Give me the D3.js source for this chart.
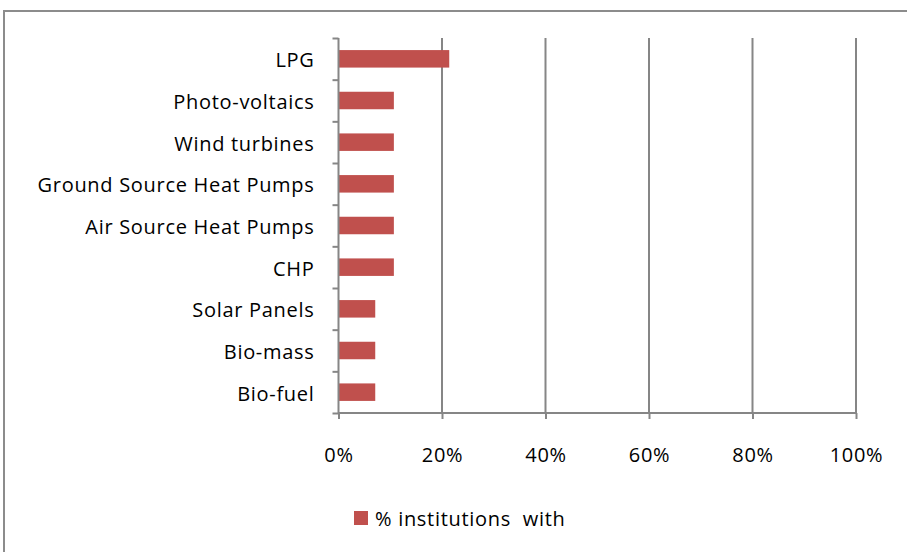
<!DOCTYPE html>
<html>
<head>
<meta charset="utf-8">
<script src="https://cdn.jsdelivr.net/npm/d3@7"></script>
<style>
  body { margin: 0; background: #fff; }
  text { font-family: "Open Sans", "Liberation Sans", sans-serif; fill: #000; letter-spacing: 0.7px; }
</style>
</head>
<body>
<div class="chart"></div>
<script>
// Categories listed top to bottom, values as share of institutions
var categories = ["LPG", "Photo-voltaics", "Wind turbines", "Ground Source Heat Pumps",
    "Air Source Heat Pumps", "CHP", "Solar Panels", "Bio-mass", "Bio-fuel"];
var values = [0.214, 0.107, 0.107, 0.107, 0.107, 0.107, 0.071, 0.071, 0.071];
var xTicks = [0, 0.2, 0.4, 0.6, 0.8, 1.0];
var seriesName = "% institutions  with";

var svgWidth = 907, svgHeight = 552;
var margin = { top: 38, left: 338.5, right: 51, bottom: 139 };
var width = svgWidth - margin.left - margin.right;
var height = svgHeight - margin.top - margin.bottom;

var svg = d3.select(".chart")
    .append("svg")
    .attr("width", svgWidth)
    .attr("height", svgHeight);

// outer chart border
svg.append("rect")
    .attr("x", 4).attr("y", 11)
    .attr("width", 910).attr("height", 560)
    .attr("fill", "none")
    .attr("stroke", "#8c8c8c")
    .attr("stroke-width", 2);

var chart = svg.append("g")
    .attr("transform", "translate(" + margin.left + "," + margin.top + ")");

var xScale = d3.scaleLinear().domain([0, 1]).range([0, width]);
var yScale = d3.scaleBand().domain(categories).range([0, height]).paddingInner(0.58).paddingOuter(0.29);
var yEdges = d3.scaleLinear().domain([0, categories.length]).range([0, height]);

// vertical gridlines
chart.selectAll(".grid")
    .data(xTicks.slice(1))
    .enter()
    .append("line")
    .attr("x1", function (d) { return xScale(d); })
    .attr("x2", function (d) { return xScale(d); })
    .attr("y1", 0)
    .attr("y2", height)
    .attr("stroke", "#868686")
    .attr("stroke-width", 2);

// bars
chart.selectAll(".bar")
    .data(values)
    .enter()
    .append("rect")
    .attr("x", 0)
    .attr("y", function (d, i) { return yScale(categories[i]); })
    .attr("width", function (d) { return xScale(d); })
    .attr("height", yScale.bandwidth())
    .attr("fill", "#c0504d");

// x axis
var bottomAxis = d3.axisBottom(xScale)
    .tickValues(xTicks)
    .tickFormat(d3.format(".0%"))
    .tickSize(6)
    .tickPadding(29);
var gx = chart.append("g")
    .attr("transform", "translate(0," + height + ")")
    .call(bottomAxis);
gx.select(".domain").attr("stroke", "#868686").attr("stroke-width", 2)
    .attr("d", "M0,0H" + width);
gx.selectAll(".tick line").attr("stroke", "#868686").attr("stroke-width", 2);
gx.selectAll(".tick text").style("font-size", "20px").attr("fill", "#000");

// y axis line with ticks on category boundaries
var leftAxis = d3.axisLeft(yEdges)
    .tickValues(d3.range(categories.length + 1))
    .tickFormat("")
    .tickSize(6);
var gy = chart.append("g").call(leftAxis);
gy.select(".domain").attr("stroke", "#868686").attr("stroke-width", 2)
    .attr("d", "M0,0V" + height);
gy.selectAll(".tick line").attr("stroke", "#868686").attr("stroke-width", 2);

// category labels
chart.selectAll(".cat")
    .data(categories)
    .enter()
    .append("text")
    .attr("x", -24)
    .attr("y", function (d) { return yScale(d) + yScale.bandwidth() / 2 + 1.5; })
    .attr("dy", "0.35em")
    .attr("text-anchor", "end")
    .style("font-size", "20px")
    .text(function (d) { return d; });

// legend
var legend = svg.append("g").attr("transform", "translate(354,511)");
legend.append("rect")
    .attr("width", 14).attr("height", 14)
    .attr("fill", "#c0504d");
legend.append("text")
    .attr("x", 21).attr("y", 8)
    .attr("dy", "0.35em")
    .style("font-size", "20px")
    .style("white-space", "pre")
    .text(seriesName);
</script>
</body>
</html>
